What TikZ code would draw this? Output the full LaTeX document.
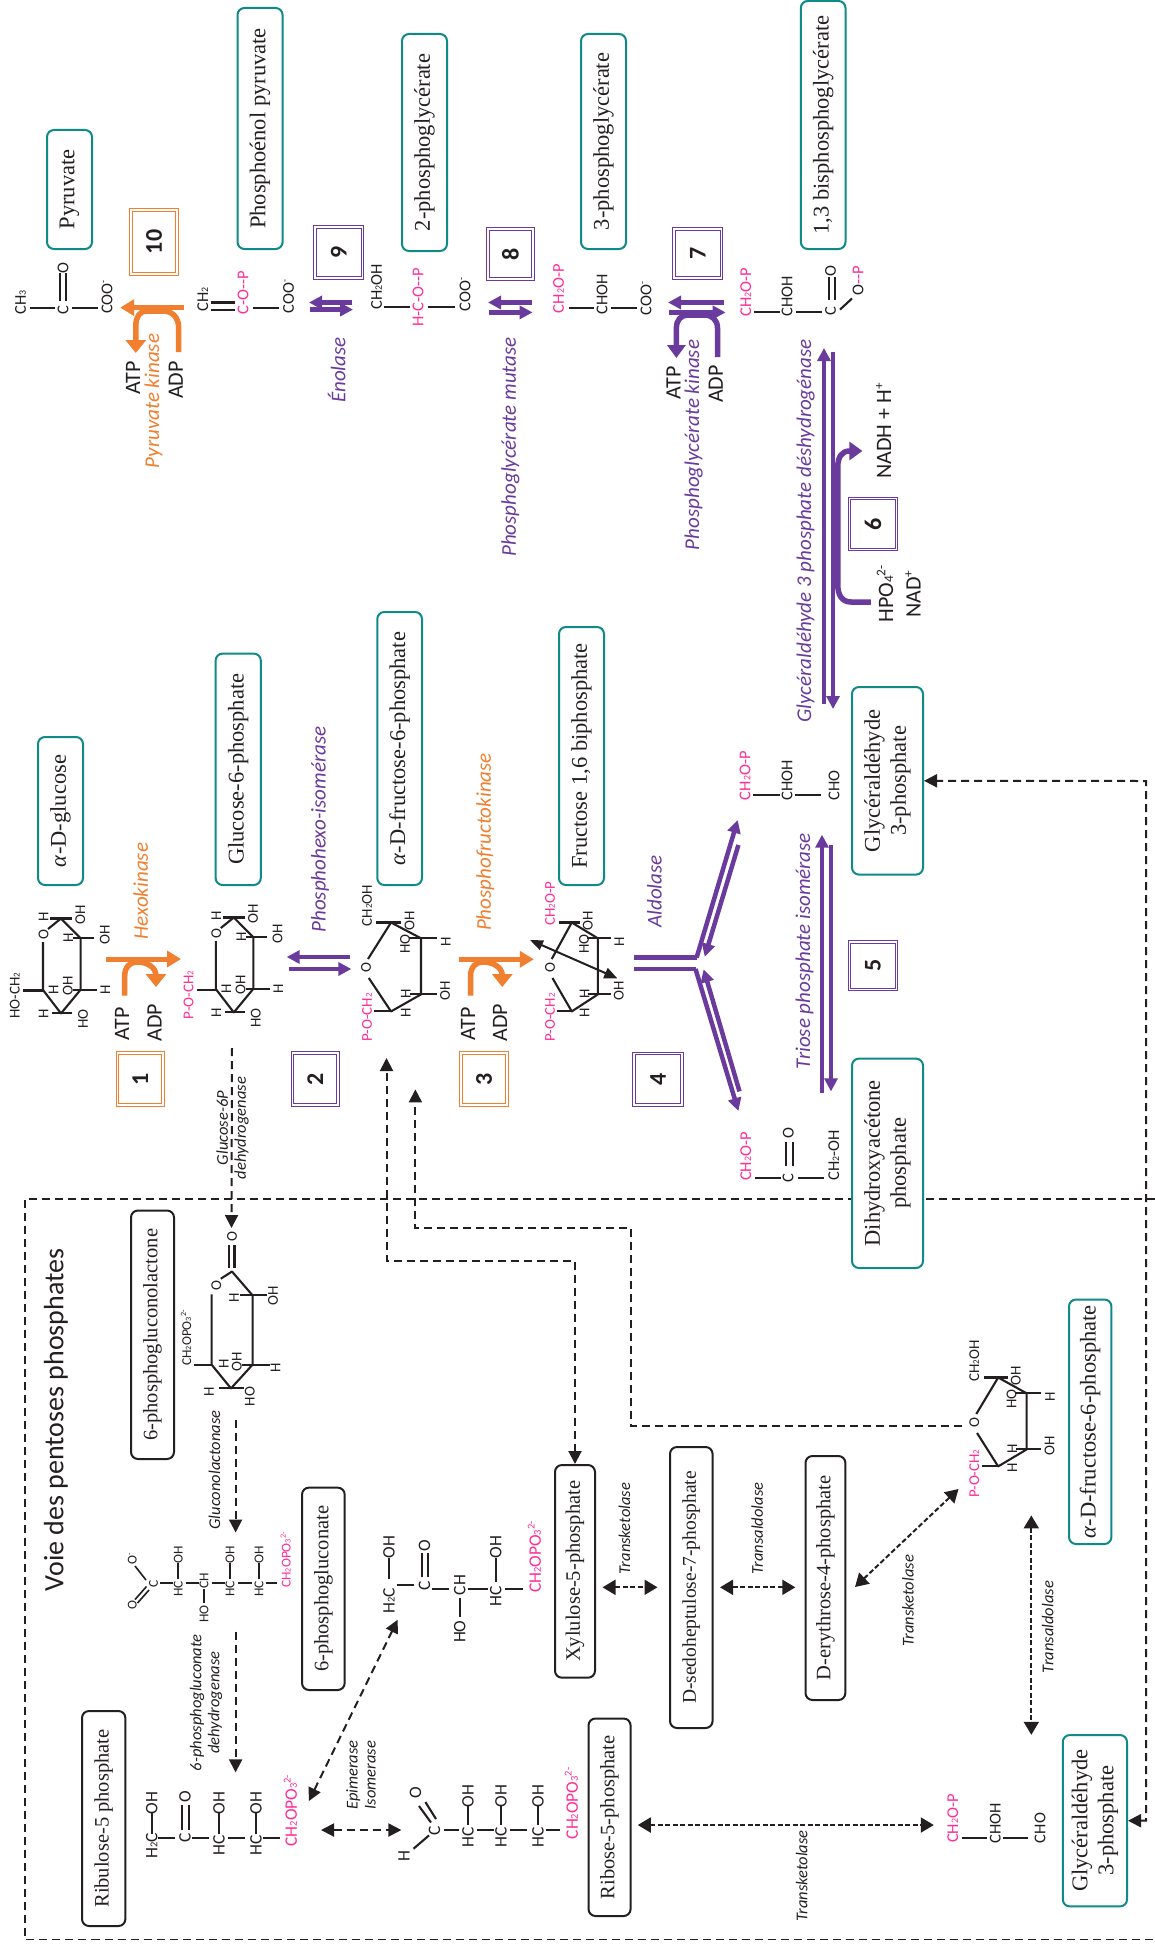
\documentclass[tikz,border=0pt]{standalone}
\usepackage{fontspec}
\setmainfont{Carlito}
\newfontfamily\serifbox{Liberation Serif}
\usetikzlibrary{arrows.meta}
\definecolor{tealc}{HTML}{0F8A86}
\definecolor{purp}{HTML}{6A3B9C}
\definecolor{orng}{HTML}{F07F2F}
\definecolor{pinkc}{HTML}{FF2D96}
\definecolor{ink}{HTML}{231F20}
\newcommand{\lowd}[1]{\scalebox{.6}{#1}}
\newcommand{\highd}[1]{\raisebox{.75ex}{\scalebox{.6}{#1}}}
\newcounter{lbl}
\newcommand{\chemlab}[3][chem]{\stepcounter{lbl}\node[#1] (lab\arabic{lbl}) at (#2) {#3};}
\newcommand{\putbox}[7][tealbox]{\node[#1,minimum width={(#6-#5)*1pt},minimum height={(#4-#3)*1pt}] (#2) at ({(#3+#4)/2},{(#5+#6)/2}) {#7};}
\newcommand{\conn}[4]{\coordinate (#2a) at (#3); \coordinate (#2b) at (#4); \draw[#1] (#2a) -- (#2b);}
\newcommand{\bd}[2]{\draw[bond] (#1) -- (#2);}
\newcommand{\glucbody}{%
 \draw[ringb] (43,942) -- (43,990) -- (61,1013.4) -- (80.6,989.7) -- (80.6,938.3) -- (61,918.5) -- (48,929);
 \draw[ringb] (52,1013.4) -- (72,1013.4) (73,989.7) -- (97,989.7) (73,938.3) -- (94,938.3) (50,918.5) -- (72,918.5);
 \chemlab[ringl]{53.6,989.7}{H}\chemlab[ringl]{43.6,1013.4}{H}\chemlab[ringl]{83,1019}{HO}\chemlab[ringl]{67.7,985.8}{OH}
 \chemlab[ringl]{105.4,989.7}{H}\chemlab[ringl]{68.4,938.3}{H}\chemlab[ringl]{104.7,935}{OH}\chemlab[ringl]{43.6,917.3}{H}\chemlab[ringl]{80.3,914.6}{OH}\chemlab[ringl]{43.6,934.3}{O}}
\newcommand{\fructbody}{%
 \draw[ringb] (2,-9) -- (25,-45.5) -- (55,-29.7) -- (55,26.4) -- (25,43.4) -- (2.8,10);
 \draw[ringb] (10,-45.5) -- (35,-45.5) (7.6,42.6) -- (26,42.6) (43,-29.7) -- (70.5,-29.7) (44,26.4) -- (70.5,26.4);
 \chemlab[ringl]{0,0}{O}\chemlab[ringl]{79.7,-26.5}{H}\chemlab[ringl]{39,-24}{HO}\chemlab[ringl]{43.5,-47.5}{OH}
 \chemlab[ringl]{39.8,25.7}{H}\chemlab[ringl]{79,23}{OH}\chemlab[ringl]{39.8,44.6}{H}}
\tikzset{
 x=1pt,y=-1pt,
 base/.style={rotate=90,inner sep=0pt,outer sep=0pt,text=ink},
 chem/.style={base,font=\fontsize{16.5}{18}\selectfont},
 chemp/.style={chem,text=pinkc},
 ringl/.style={base,font=\fontsize{15}{17}\selectfont},
 ringp/.style={ringl,text=pinkc},
 gluc/.style={base,font=\fontsize{13.5}{15}\selectfont},
 glucp/.style={gluc,text=pinkc},
 big/.style={base,font=\fontsize{17.5}{19}\selectfont},
 bigp/.style={big,text=pinkc},
 cof/.style={base,font=\fontsize{22}{24}\selectfont},
 enzo/.style={base,font=\fontsize{21}{23}\selectfont\itshape,text=orng},
 enzp/.style={base,font=\fontsize{21}{23}\selectfont\itshape,text=purp},
 enzs/.style={base,font=\fontsize{16.5}{18}\selectfont\itshape,align=center},
 tealbox/.style={draw=tealc,line width=2pt,rounded corners=7pt,fill=white,rotate=90,inner sep=0pt,align=center,text=ink,font=\fontsize{22.5}{26}\serifbox},
 inkbox/.style={tealbox,draw=ink,font=\fontsize{20.5}{24}\serifbox},
 sedbox/.style={inkbox,font=\fontsize{19.5}{24}\serifbox},
 numo/.style={draw=orng,double,double distance=1.6pt,line width=.9pt,fill=white,rotate=90,inner sep=0pt,text=ink,font=\fontsize{24}{26}\selectfont\bfseries},
 nump/.style={numo,draw=purp},
 bond/.style={draw=ink,line width=2.1pt},
 ringb/.style={draw=ink,line width=2.1pt,line join=round},
 cro/.style={draw=orng,line width=5pt,-{Triangle[length=14pt,width=16pt]}},
 eqp/.style={draw=purp,line width=4.5pt,-{Triangle[length=13pt,width=13pt]}},
 stp/.style={draw=purp,line width=4.5pt},
 hko/.style={draw=orng,line width=5.5pt,-{Triangle[length=13pt,width=20pt]}},
 hkp/.style={draw=purp,line width=5.5pt,-{Triangle[length=13pt,width=18pt]}},
 dash1/.style={draw=ink,line width=2pt,dash pattern=on 8pt off 5pt,-{Triangle[length=13pt,width=13pt]}},
 dash1b/.style={draw=ink,line width=2pt,dash pattern=on 8pt off 5pt,{Triangle[length=13pt,width=13pt]}-{Triangle[length=13pt,width=13pt]}},
 dash2/.style={draw=ink,line width=2pt,dash pattern=on 5pt off 2.5pt,{Triangle[length=13pt,width=15pt]}-{Triangle[length=13pt,width=15pt]}},
 frame/.style={draw=ink,line width=1.9pt,dash pattern=on 8pt off 5pt},
}
\begin{document}
\begin{tikzpicture}
\useasboundingbox (0,0) rectangle (1155,1948);
\fill[white] (0,0) rectangle (1155,1948);
% frame
\draw[frame] (1155,1199) -- (25,1199) -- (25,1939.5) -- (1155,1939.5);
\chemlab[base,font=\fontsize{28}{30}\selectfont]{56,1420}{Voie des pentoses phosphates}

% dashed links of the pathway
\conn{dash1}{dg}{232,1048}{231.5,1228}

% teal boxes
\putbox{pyr}{47}{92}{130}{249}{Pyruvate}
\putbox{pep}{237.5}{282.6}{8}{249}{Phosphoénol pyruvate}
\putbox{pg2}{402}{447}{34}{251}{2-phosphoglycérate}
\putbox{pg3}{581}{626}{34}{249}{3-phosphoglycérate}
\putbox{bpg}{800.8}{845.5}{1}{249}{1,3 bisphosphoglycérate}
\putbox{glc}{38}{83}{737}{885}{\textit{α}-D-glucose}
\putbox{g6p}{215.6}{260.8}{653.6}{885}{Glucose-6-phosphate}
\putbox{f6p}{377.3}{422}{612}{885}{\textit{α}-D-fructose-6-phosphate}
\putbox{fbp}{559}{604}{627}{885}{Fructose 1,6 biphosphate}
\putbox{gap}{852}{923}{687}{874.6}{Glycéraldéhyde\\3-phosphate}
\putbox{dhap}{852}{923}{1058.6}{1268}{Dihydroxyacétone\\phosphate}
\putbox{ff2}{1069}{1111.4}{1299.5}{1544}{\textit{α}-D-fructose-6-phosphate}
\putbox{gp2}{1062.8}{1127}{1735}{1906.4}{Glycéraldéhyde\\3-phosphate}
% black boxes
\putbox[inkbox]{lac}{131}{174}{1210.5}{1459}{6-phosphogluconolactone}
\putbox[inkbox]{pgn}{302}{344.7}{1487.6}{1690}{6-phosphogluconate}
\putbox[inkbox]{rul}{82}{125.4}{1711}{1926}{Ribulose-5 phosphate}
\putbox[inkbox]{xyl}{555}{595}{1465}{1677.7}{Xylulose-5-phosphate}
\putbox[sedbox]{sed}{670}{712.6}{1447}{1728}{D-sedoheptulose-7-phosphate}
\putbox[inkbox]{ery}{805.5}{845.4}{1456}{1700}{D-erythrose-4-phosphate}
\putbox[inkbox]{rib}{588.5}{630.6}{1718.5}{1916}{Ribose-5-phosphate}
% number boxes
\putbox[numo]{n1}{117.6}{163}{1053}{1105}{1}
\putbox[nump]{n2}{292.6}{338}{1053}{1105}{2}
\putbox[numo]{n3}{461}{507}{1053}{1105}{3}
\putbox[nump]{n4}{634}{682}{1053.5}{1105}{4}
\putbox[nump]{n5}{849.5}{896.5}{942}{989.5}{5}
\putbox[nump]{n6}{849.5}{896.5}{498.6}{549.6}{6}
\putbox[nump]{n7}{674}{721.5}{229}{278}{7}
\putbox[nump]{n8}{488}{533}{229}{279}{8}
\putbox[nump]{n9}{315}{362.5}{227}{278}{9}
\putbox[numo]{n10}{131}{177}{210}{274}{10}

% long dashed links ending on boxes or rings
\coordinate (gs) at (1146,1820.7);
\coordinate (gm) at (1146,781);
\draw[dash1b] (gp2.south) -- (gs) -- (gm) -- (gap.south);
\coordinate (fa) at (386.5,1058);
\draw[dash1b] (xyl.east) -- (575,1261) -- (386.5,1261) -- (fa);
\coordinate (fb1) at (415.4,1089.4); \coordinate (fb2) at (962,1426);
\draw[dash1] (fb2) -- (630.6,1426) -- (630.6,1228) -- (415.4,1228) -- (fb1);

% Pyruvate
\chemlab{20.7,302.5}{CH\lowd{3}}\bd{29.6,308.4}{54.7,308.4}\chemlab{63,310}{C}
\bd{60,273}{60,300.5}\bd{65.8,273}{65.8,300.5}\chemlab{63,268}{O}\bd{72,308.4}{98,308.4}\chemlab{107,297}{COO\highd{-}}
\conn{cro}{a10}{183.8,307.6}{120.2,307.6}
\coordinate (h10s) at (178.7,352); \coordinate (h10e) at (135.8,353);
\draw[hko] (h10s) -- (178.7,328) .. controls (178.7,317) and (172,311) .. (162.8,311) -- (146,311) .. controls (140,311) and (135.8,317) .. (135.8,326) -- (h10e);
\chemlab[cof]{133,377.6}{ATP}\chemlab[cof]{175.7,380}{ADP}\chemlab[enzo]{153.5,401}{Pyruvate kinase}
% PEP
\chemlab{202.7,299.7}{CH\lowd{2}}\bd{211,302.5}{235,302.5}\bd{211,310.4}{235,310.4}\chemlab[chemp]{243,292.6}{C-O-{}-P}
\bd{252.6,307.6}{279.3,307.6}\chemlab{288.5,296.6}{COO\highd{-}}
\conn{eqp}{a9a}{352,302.5}{309,302.5}\conn{eqp}{a9b}{310,309.6}{353,309.6}
\chemlab[enzp]{336.6,370}{Énolase}
% 2PG
\chemlab{376.6,286.7}{CH\lowd{2}OH}\bd{384,307}{410,307}\chemlab[chemp]{418,297.4}{H-C-O-{}-P}\bd{428,307}{455,307}\chemlab{465,294.6}{COO\highd{-}}
\conn{eqp}{a8a}{531.6,302.5}{488,302.5}\conn{eqp}{a8b}{489,312.4}{532.6,312.4}
\chemlab[enzp]{510.5,447}{Phosphoglycérate mutase}
% 3PG
\chemlab[chemp]{558.5,288.7}{CH\lowd{2}O-P}\bd{568.5,308.4}{593.6,308.4}\chemlab{602,294.6}{CHOH}\bd{611,308.4}{637,308.4}\chemlab{646,298.5}{COO\highd{-}}
\conn{eqp}{a7a}{723.7,302.5}{668,302.5}\conn{eqp}{a7b}{669,312.4}{725.6,312.4}
\coordinate (h7s) at (717.5,357); \coordinate (h7e) at (676.4,358);
\draw[hkp] (h7s) -- (717.5,328) .. controls (717.5,320) and (712,315) .. (704.7,315) -- (688,315) .. controls (681,315) and (676.4,320) .. (676.4,328) -- (h7e);
\chemlab[cof]{673.5,382.7}{ATP}\chemlab[cof]{715.7,384}{ADP}\chemlab[enzp]{693.7,445}{Phosphoglycérate kinase}
% BPG
\chemlab[chemp]{745.7,292}{CH\lowd{2}O-P}\bd{754,312.4}{780,312.4}\chemlab{787,296.6}{CHOH}\bd{796,312.4}{822,312.4}\chemlab{830.5,311}{C}
\bd{828.6,277}{828.6,300}\bd{835,277}{835,300}\chemlab{830.5,271}{O}\bd{840,309.6}{852,298.5}
\chemlab{858,280.7}{O\textcolor{pinkc}{-{}-P}}
% G3P dehydrogenase
\chemlab[enzp]{805.5,531}{Glycéraldéhyde 3 phosphate déshydrogénase}
\conn{eqp}{a6a}{824,704}{824,348}\conn{eqp}{a6b}{833,352}{833,709}
\coordinate (h6s) at (870.8,602); \coordinate (h6e) at (862.4,451);
\draw[hkp] (h6s) -- (851,602) .. controls (842,602) and (837.8,595) .. (837.8,585) -- (837.8,466.6) .. controls (837.8,457) and (842,451) .. (849.5,451) -- (h6e);
\chemlab[cof]{883.6,431}{NADH + H\highd{+}}\chemlab[cof]{885,594}{HPO\lowd{4}\highd{2-}}\chemlab[cof]{913,594}{NAD\highd{+}}

% Glucose
\chemlab[ringl]{14.8,995.6}{HO-CH\lowd{2}}\draw[ringb] (23,990.5) -- (43,990.5);
\glucbody
\conn{cro}{a1}{106,959}{181,959}
\coordinate (h1s) at (124.7,995.6); \coordinate (h1e) at (156,987);
\draw[hko] (h1s) -- (124.7,976) .. controls (124.7,967) and (130,962) .. (136.9,962) .. controls (147,962) and (156,967) .. (156,976) -- (h1e);
\chemlab[cof]{122,1024}{ATP}\chemlab[cof]{154.6,1022.5}{ADP}\chemlab[enzo]{140.6,891}{Hexokinase}
% G6P
\chemlab[ringp]{188.6,995}{P-O-CH\lowd{2}}
\begin{scope}[shift={(172.8,-1)}]\draw[ringb] (24,990.7) -- (43,990.7);\glucbody\end{scope}
\chemlab[enzs]{232.5,1128}{Glucose-6P\\dehydrogenase}
\conn{eqp}{a2a}{349.6,957}{286.7,957}\conn{eqp}{a2b}{288.5,969}{351.4,969}
\chemlab[enzp]{320,829.5}{Phosphohexo-isomérase}
% F6P
\begin{scope}[shift={(366,968)}]\fructbody\end{scope}
\chemlab[ringl]{367,905.5}{CH\lowd{2}OH}\chemlab[ringp]{367,1017.4}{P-O-CH\lowd{2}}
\conn{cro}{a3}{458.7,959.3}{533.8,959.3}
\coordinate (h3s) at (470.5,995.6); \coordinate (h3e) at (502.3,987);
\draw[hko] (h3s) -- (470.5,976) .. controls (470.5,967) and (476,962) .. (482.7,962) .. controls (493,962) and (502.3,967) .. (502.3,976) -- (h3e);
\chemlab[cof]{468,1024}{ATP}\chemlab[cof]{500,1022.5}{ADP}\chemlab[enzo]{485.3,842}{Phosphofructokinase}
% FBP
\begin{scope}[shift={(550,968)},xscale=.87]\fructbody\end{scope}
\chemlab[ringp]{550,903.5}{CH\lowd{2}O-P}\chemlab[ringp]{550,1017.4}{P-O-CH\lowd{2}}
\conn{draw=ink,line width=2pt,{Triangle[length=13pt,width=10pt]}-{Triangle[length=13pt,width=11pt]}}{xf}{530,940}{617.3,978.3}
% Aldolase
\chemlab[enzp]{654.4,891.5}{Aldolase}
\draw[stp] (634,957.6) -- (697,957.6);\draw[stp] (634,969) -- (696,969);
\conn{eqp}{y1}{696.6,957.6}{737.7,820}\conn{eqp}{y2}{738.4,845}{704.7,956.7}
\conn{eqp}{y3}{695.5,969}{738.4,1111}\conn{eqp}{y4}{739.5,1091.4}{703.6,969.3}
% GAP chem
\chemlab[chemp]{745,775.7}{CH\lowd{2}O-P}\bd{753.4,794.7}{780,794.7}\chemlab{787,780}{CHOH}\bd{794.5,794.7}{821,794.7}\chemlab{834,785.4}{CHO}
\conn{eqp}{t1}{822,1092.7}{822,834.7}\conn{eqp}{t2}{831,845}{831,1091.4}
\chemlab[enzp]{804.4,951}{Triose phosphate isomérase}
% DHAP chem
\chemlab[chemp]{745.7,1156.6}{CH\lowd{2}O-P}\bd{755,1177.7}{781,1177.7}\chemlab{788,1177.7}{C}\bd{786,1142}{786,1166}\bd{792.7,1142}{792.7,1166}\chemlab{788.3,1132.7}{O}\bd{798,1177.7}{824,1177.7}\chemlab{833.8,1155}{CH\lowd{2}-OH}

% Lactone
\draw[ringb] (228.6,1245) -- (228.6,1268) (234.5,1245) -- (234.5,1268);
\draw[ringb] (220.8,1278.7) -- (232,1271.5) -- (252.6,1295.4) -- (252.6,1364.6) -- (231,1388.4) -- (211.6,1364.6) -- (211.6,1294.4);
\draw[ringb] (240.4,1295.4) -- (267,1295.4) (242,1364.6) -- (270,1364.6) (193.5,1364.6) -- (211.6,1364.6) (219,1388.4) -- (244,1388.4);
\chemlab[ringl]{232,1237}{O}\chemlab[ringl]{216.4,1286}{O}\chemlab[ringl]{234,1298}{H}\chemlab[ringl]{273,1295.4}{OH}\chemlab[ringl]{275.6,1368}{H}\chemlab[ringl]{236.7,1362}{OH}\chemlab[ringl]{223.8,1363.6}{H}\chemlab[ringl]{209,1392}{H}\chemlab[ringl]{249.7,1396.5}{HO}
\chemlab[gluc]{186,1338}{CH\lowd{2}OPO\lowd{3}\highd{2-}}
\chemlab[enzs]{214.5,1470}{Gluconolactonase}
\conn{dash1}{d2}{235.6,1420}{235.6,1532.5}
% 6-phosphogluconate
\chemlab[gluc]{132.4,1558.7}{O\highd{-}}\chemlab[gluc]{132.4,1605.5}{O}\chemlab[gluc]{153.5,1584}{C}
\draw[bond,line width=1.6pt] (135,1566) -- (146,1580) (135,1599.5) -- (146.5,1586.5) (137.5,1603) -- (149,1590);
\foreach \xx/\yy in {160/173,185.7/198.6,211.6/225,238/251.5,266/277.4}{\draw[bond,line width=1.8pt] (\xx,1583) -- (\yy,1583);}
\foreach \xx in {178.3,230,259}{\draw[bond,line width=1.8pt] (\xx,1562.5) -- (\xx,1579);\chemlab[gluc]{\xx,1589}{HC}\chemlab[gluc]{\xx,1555}{OH}}
\draw[bond,line width=1.8pt] (204,1589) -- (204,1603);\chemlab[gluc]{204,1580.6}{CH}\chemlab[gluc]{204,1614}{HO}
\chemlab[glucp]{285.6,1560}{CH\lowd{2}OPO\lowd{3}\highd{2-}}
\chemlab[enzs]{206,1702.7}{6-phosphogluconate\\dehydrogenase}
\conn{dash1}{d3}{235.6,1631.7}{235.6,1772.4}
% Ribulose
\chemlab[big]{151.7,1846}{H\lowd{2}C}\chemlab[big]{151.7,1803}{OH}\bd{151.7,1813}{151.7,1833.5}\bd{158,1838}{174.6,1838}\chemlab[big]{185,1838}{C}\bd{182,1805}{182,1830}\bd{188.6,1805}{188.6,1830}\chemlab[big]{185,1797}{O}\bd{192,1838}{209,1838}
\chemlab[big]{219,1845}{HC}\chemlab[big]{219,1803}{OH}\bd{219,1813}{219,1834}\bd{227.5,1838}{245,1838}\chemlab[big]{256,1845}{HC}\chemlab[big]{256,1803}{OH}\bd{256,1813}{256,1834}\bd{263.4,1838}{280,1838}
\chemlab[bigp]{290.4,1810.6}{CH\lowd{2}OPO\lowd{3}\highd{2-}}
\conn{dash1b}{e1}{308.9,1801}{397.6,1619.8}
\conn{dash1b}{e2}{321,1830}{401.4,1830}
\chemlab[enzs]{361,1775}{Epimerase\\Isomerase}
% Xylulose
\chemlab[big]{389,1600.7}{H\lowd{2}C}\chemlab[big]{389,1547}{OH}\bd{389,1558}{389,1579}\bd{396.5,1585}{413.5,1585}\chemlab[big]{424.6,1586}{C}\bd{421.7,1553}{421.7,1577}\bd{428,1553}{428,1577}\chemlab[big]{424.6,1546}{O}\bd{431.7,1588.8}{449.4,1588.8}
\chemlab[big]{459.8,1585}{CH}\chemlab[big]{459.8,1631.7}{HO}\bd{459.8,1598}{459.8,1617}\bd{468,1588.8}{488,1588.8}\chemlab[big]{495.7,1596}{HC}\chemlab[big]{495.7,1547}{OH}\bd{495.7,1558}{495.7,1581.6}\bd{505,1588.8}{523.4,1588.8}
\chemlab[bigp]{534.5,1557}{CH\lowd{2}OPO\lowd{3}\highd{2-}}
% Ribose
\chemlab[big]{404,1856}{H}\bd{413.5,1848.7}{429,1835.4}\chemlab[big]{434.6,1830.6}{C}\chemlab[big]{415.4,1793}{O}\bd{419,1806}{431,1822.5}\bd{425.4,1802}{436,1819}\bd{444,1829.6}{458.7,1829.6}
\chemlab[big]{468,1837.7}{HC}\chemlab[big]{468,1796}{OH}\bd{468,1805.8}{468,1825}\bd{477,1829.6}{494,1829.6}\chemlab[big]{501,1837.7}{HC}\chemlab[big]{501,1796}{OH}\bd{501,1805.8}{501,1825}\bd{509.7,1829.6}{527,1829.6}\chemlab[big]{538,1837.7}{HC}\chemlab[big]{538,1796}{OH}\bd{538,1805.8}{538,1825}\bd{545.6,1829.6}{560,1829.6}
\chemlab[bigp]{571.5,1803.4}{CH\lowd{2}OPO\lowd{3}\highd{2-}}
% Links between pentoses
\chemlab[enzs]{624.5,1528.6}{Transketolase}\chemlab[enzs]{757.3,1528.6}{Transaldolase}\chemlab[enzs]{908,1600.7}{Transketolase}\chemlab[enzs]{1047.7,1627}{Transaldolase}\chemlab[enzs]{801.7,1876}{Transketolase}
\conn{dash2}{l1}{602.5,1587.3}{657.5,1587.3}\conn{dash2}{l2}{720,1587.3}{795.3,1587.3}\conn{dash2}{l3}{855,1587}{958.5,1489}\conn{dash2}{l4}{1031.3,1515.4}{1031.3,1734.8}\conn{dash2}{l5}{637.8,1825}{933.8,1825}
% F6P second
\begin{scope}[shift={(974.4,1423)},xscale=.95]\fructbody\end{scope}
\chemlab[ringl]{974.4,1361}{CH\lowd{2}OH}\chemlab[ringp]{974.4,1473.7}{P-O-CH\lowd{2}}
% GAP second
\chemlab[chemp]{952.8,1818.6}{CH\lowd{2}O-P}\bd{961.5,1838}{987,1838}\chemlab{995.3,1823}{CHOH}\bd{1003,1838}{1028,1838}\chemlab{1040,1828}{CHO}
\end{tikzpicture}
\end{document}
